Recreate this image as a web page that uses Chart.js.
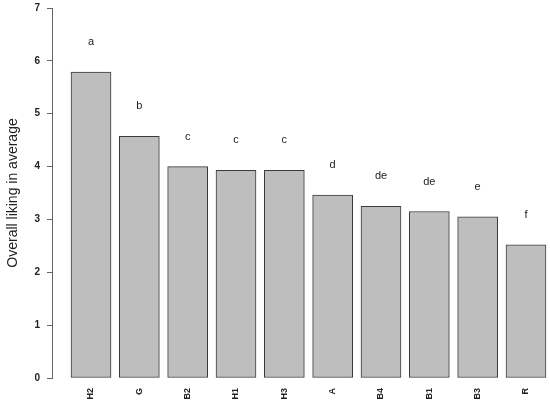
<!DOCTYPE html>
<html>
<head>
<meta charset="utf-8">
<script src="https://cdn.jsdelivr.net/npm/chart.js@4"></script>
<style>
  html, body { margin:0; padding:0; background:#fff; }
  canvas { display:block; }
</style>
</head>
<body>
<canvas id="chart" width="550" height="407"></canvas>
<script>
// ---- data ----
const CATEGORIES = ['H2','G','B2','H1','H3','A','B4','B1','B3','R'];
const LIKING = [5.79, 4.57, 4.00, 3.93, 3.93, 3.46, 3.25, 3.15, 3.05, 2.52];
const GROUPS = ['a','b','c','c','c','d','de','de','e','f'];
const Y_TICKS = [0,1,2,3,4,5,6,7];

const FONT = '"Liberation Sans", Arial, sans-serif';
const INK = '#222';

// significance letters above each bar
const letterPlugin = {
  id: 'letters',
  afterDatasetsDraw(chart) {
    const ctx = chart.ctx;
    const meta = chart.getDatasetMeta(0);
    ctx.save();
    ctx.font = '11px ' + FONT;
    ctx.fillStyle = INK;
    ctx.textAlign = 'center';
    ctx.textBaseline = 'middle';
    meta.data.forEach((bar, i) => ctx.fillText(GROUPS[i], bar.x, bar.y - 30));
    ctx.restore();
  }
};

new Chart(document.getElementById('chart'), {
  type: 'bar',
  data: { datasets: [{
    data: LIKING.map((v, i) => ({ x: i + 1, y: v })),
    backgroundColor: '#bebebe', borderColor: '#3a3a3a', borderWidth: 1,
    borderSkipped: false, barThickness: 40
  }]},
  options: {
    responsive: false, animation: false,
    layout: { padding: { top: 8, right: 1, left: 0, bottom: 0 } },
    plugins: { legend: { display: false }, tooltip: { enabled: false } },
    scales: {
      x: {
        type: 'linear', min: 0.193, max: 10.476, offset: false,
        afterBuildTicks: s => { s.ticks = CATEGORIES.map((_, i) => ({ value: i + 1 })); },
        afterFit: s => { s.height = 29; },
        grid: { display: false, drawTicks: false }, border: { display: false },
        ticks: { autoSkip: false, minRotation: 90, maxRotation: 90, padding: 10, color: INK,
          font: { family: FONT, size: 9, weight: 'bold' },
          callback: v => CATEGORIES[v - 1] }
      },
      y: {
        min: 0, max: 7,
        afterBuildTicks: s => { s.ticks = Y_TICKS.map(v => ({ value: v })); },
        afterFit: s => { s.width = 52; s.paddingTop = 0; s.paddingBottom = 0; },
        grid: { drawOnChartArea: false, tickLength: 5, color: '#666' },
        border: { color: '#666' },
        ticks: { padding: 7, color: INK, font: { family: FONT, size: 10, weight: 'bold' } },
        title: { display: true, text: 'Overall liking in average', color: INK,
          font: { family: FONT, size: 14 }, padding: { top: 5, bottom: 0 } }
      }
    }
  },
  plugins: [letterPlugin]
});
</script>
</body>
</html>
